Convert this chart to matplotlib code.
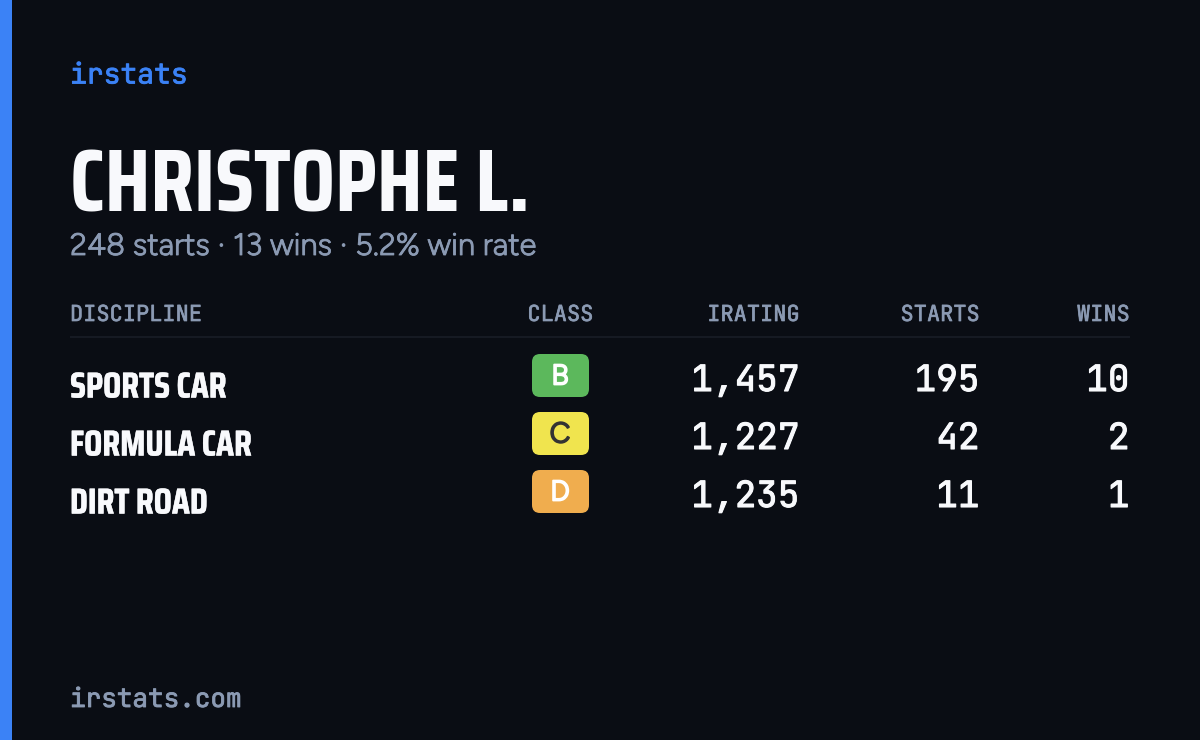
import logging
import matplotlib
matplotlib.use("Agg")
import matplotlib.pyplot as plt
import matplotlib.patheffects as pe
from matplotlib.patches import FancyBboxPatch, Rectangle

logging.getLogger("matplotlib.font_manager").setLevel(logging.ERROR)

brand = "irstats"
driver = "CHRISTOPHE L."
summary = "248 starts · 13 wins · 5.2% win rate"
footer = "irstats.com"

headers = ["DISCIPLINE", "CLASS", "IRATING", "STARTS", "WINS"]
disciplines = ["SPORTS CAR", "FORMULA CAR", "DIRT ROAD"]
classes = ["B", "C", "D"]
iratings = [1457, 1227, 1235]
starts = [195, 42, 11]
wins = [10, 2, 1]

BG = "#0a0d14"
BLUE = "#3b82f6"
MUTED = "#8b9ab3"
WHITE = "#f8f9fc"
badge_colors = {"B": "#5cb85c", "C": "#f0e44e", "D": "#f0ad4e"}
badge_text = {"B": "#ffffff", "C": "#333333", "D": "#ffffff"}

NARROW = ["Saira Condensed", "Saira ExtraCondensed", "Barlow Condensed", "DejaVu Sans"]
MONO = ["JetBrains Mono", "DejaVu Sans Mono"]
SANS = ["Google Sans", "Figtree", "Inter"]


def px(size):
    # font size given in pixels, figure is 100 dpi
    return size * 72 / 100


def label(x, y, s, color, size, family, ha="left", bold=0.0, **kw):
    # the variable fonts only load at their default weight, so thicken with a stroke
    t = ax.text(x, y, s, color=color, fontsize=px(size), family=family, ha=ha,
                va="baseline", **kw)
    if bold:
        t.set_path_effects([pe.withStroke(linewidth=bold, foreground=color)])
    return t


fig = plt.figure(figsize=(12, 7.4), dpi=100, facecolor=BG)
ax = fig.add_axes([0, 0, 1, 1])
ax.set_xlim(0, 1200)
ax.set_ylim(740, 0)
ax.axis("off")

ax.add_patch(Rectangle((0, 0), 12, 740, color=BLUE, lw=0))

label(70, 83.5, brand, BLUE, 28, MONO, bold=0.6)
label(70, 212, driver, WHITE, 87.8, NARROW, weight="bold", )
label(70, 255, summary, MUTED, 30.9, SANS, bold=0.6)

# header row
label(70, 321, headers[0], MUTED, 22, MONO, bold=0.5)
label(560.5, 321, headers[1], MUTED, 22, MONO, ha="center", bold=0.5)
label(800, 321, headers[2], MUTED, 22, MONO, ha="right", bold=0.5)
label(980, 321, headers[3], MUTED, 22, MONO, ha="right", bold=0.5)
label(1130, 321, headers[4], MUTED, 22, MONO, ha="right", bold=0.5)
ax.plot([70, 1130], [337, 337], color="#161a23", lw=1.5, solid_capstyle="butt")

for i, name in enumerate(disciplines):
    y = 58 * i
    label(70, 397.5 + y, name, WHITE, 36, NARROW, weight="bold", bold=0.3)

    c = classes[i]
    ax.add_patch(FancyBboxPatch((540, 362 + y), 41, 27,
                                boxstyle="round,pad=8,rounding_size=8",
                                fc=badge_colors[c], ec="none"))
    label(560, 384.5 + y, c, badge_text[c], 28.5, SANS, ha="center", bold=1.3)

    label(799.5, 391 + y, f"{iratings[i]:,}", WHITE, 36, MONO, ha="right", bold=0.8)
    label(979.5, 391 + y, str(starts[i]), WHITE, 36, MONO, ha="right", bold=0.8)
    label(1129.5, 391 + y, str(wins[i]), WHITE, 36, MONO, ha="right", bold=0.8)

label(70, 707, footer, MUTED, 26, MONO, bold=0.6)

fig.savefig("out.png", dpi=100, facecolor=BG)
